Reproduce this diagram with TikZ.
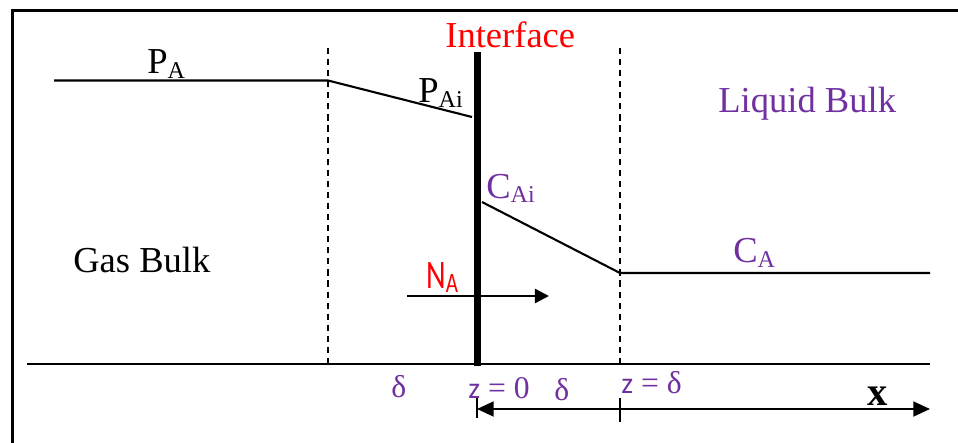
\documentclass[tikz,border=0pt]{standalone}
\usepackage{fontspec}
\setmainfont{Liberation Serif}
\newfontfamily\fluxfont[FakeStretch=0.75]{Carlito}
\newfontfamily\zfont{Carlito}
\usetikzlibrary{arrows.meta}
\definecolor{liqpurple}{HTML}{7030A0}
\newcommand{\lowsub}[2][3.4pt]{\raisebox{-#1}{\fontsize{13.7}{14}\selectfont #2}}

\begin{document}
\begin{tikzpicture}[
    x=0.02cm, y=-0.02cm,
    profile/.style={line width=1.2pt},
    film/.style={line width=1.1pt, dash pattern=on 3.5pt off 2.8pt},
    lbl/.style={anchor=base west, inner sep=0pt, font=\fontsize{20.8}{24}\selectfont},
    small/.style={anchor=base west, inner sep=0pt, font=\fontsize{18}{20}\selectfont, text=liqpurple},
    tip/.style={-{Triangle[length=8pt,width=8pt]}},
    bigtip/.style={{Triangle[length=9.5pt,width=8.5pt]}-{Triangle[length=9.5pt,width=8.5pt]}}
]
\useasboundingbox (0,0) rectangle (958,443);

% Frame
\draw[line width=2pt] (12.5,443) -- (12.5,10.5) -- (958,10.5);

% Film boundaries
\coordinate (gtop) at (328,48);
\coordinate (gbot) at (328,364);
\coordinate (ltop) at (620,48);
\coordinate (lbot) at (620,364);
\draw[film] (gtop) -- (gbot);
\draw[film] (ltop) -- (lbot);

% Interface
\coordinate (itop) at (477.5,52);
\coordinate (ibot) at (477.5,366);
\draw[line width=4pt] (itop) -- (ibot);

% Base line
\coordinate (bl) at (27,364);
\coordinate (br) at (930,364);
\draw[profile] (bl) -- (br);

% Gas side profile
\coordinate (pa0) at (54,80.5);
\coordinate (pa1) at (328,80.5);
\coordinate (pai) at (472,117);
\draw[profile] (pa0) -- (pa1) -- (pai);

% Liquid side profile
\coordinate (cai) at (482,202);
\coordinate (ca0) at (620,273);
\coordinate (ca1) at (930,273);
\draw[profile] (cai) -- (ca0) -- (ca1);

% Flux
\coordinate (na0) at (407,296);
\coordinate (na1) at (549,296);
\draw[profile, tip] (na0) -- (na1);

% Axis
\coordinate (z0) at (477,409);
\coordinate (xend) at (930,409);
\draw[profile, bigtip] (z0) -- (xend);
\draw[line width=0.7pt] (477,397) -- (477,418);
\draw[line width=0.7pt] (620,398) -- (620,422);

% Labels
\node[lbl, text=red] (ifacelbl) at (445,47) {Interface};
\node[lbl] (palbl) at (147,73) {P\lowsub{A}};
\node[lbl] (pailbl) at (418,102) {P\lowsub{Ai}};
\node[lbl, text=liqpurple] (cailbl) at (486,198) {C\lowsub[2.8pt]{Ai}};
\node[lbl, text=liqpurple] (calbl) at (733,262) {C\lowsub{A}};
\node[lbl] (gaslbl) at (73,272) {Gas Bulk};
\node[lbl, text=liqpurple] (liqlbl) at (718,112) {Liquid Bulk};
\node[lbl, text=red, font=\fontsize{23}{26}\selectfont] (nalbl) at (426,288) {\fluxfont N\lowsub[2.3pt]{\fontsize{16}{18}\selectfont A}};

\node[small] (dgas) at (391,397) {δ};
\node[small] (zzero) at (468,398) {{\zfont\fontsize{17}{20}\selectfont z} = 0};
\node[small] (dliq) at (554,400) {δ};
\node[small] (zdelta) at (621,393) {{\zfont\fontsize{17}{20}\selectfont z} = δ};
\node[lbl, font=\fontsize{23}{26}\selectfont\bfseries] (xlbl) at (867,405) {x};

\end{tikzpicture}
\end{document}
